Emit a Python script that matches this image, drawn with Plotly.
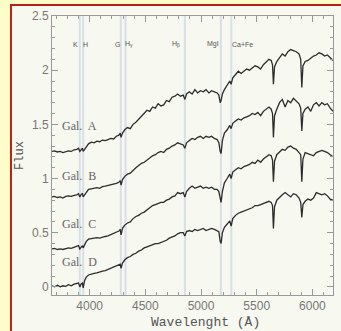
import plotly.graph_objects as go

wavelength = [3662, 3685, 3710, 3735, 3760, 3785, 3810, 3835, 3860, 3885,
              3900, 3912, 3925, 3935, 3942, 3955, 3970, 3990, 4015, 4040,
              4065, 4090, 4115, 4140, 4165, 4190, 4215, 4240, 4262, 4275,
              4282, 4295, 4315, 4340, 4365, 4390, 4415, 4440, 4465, 4490,
              4515, 4540, 4565, 4590, 4615, 4640, 4665, 4690, 4715, 4740,
              4765, 4790, 4815, 4840, 4855, 4870, 4895, 4920, 4945, 4970,
              4995, 5020, 5045, 5070, 5095, 5120, 5145, 5160, 5172, 5180,
              5192, 5210, 5235, 5258, 5270, 5285, 5310, 5335, 5360, 5385,
              5410, 5435, 5460, 5485, 5510, 5535, 5560, 5585, 5610, 5630,
              5642, 5650, 5660, 5680, 5705, 5730, 5755, 5780, 5805, 5830,
              5855, 5880, 5895, 5905, 5915, 5935, 5960, 5985, 6010, 6035,
              6060, 6085, 6110, 6135, 6160, 6185]

flux_a = [1.25, 1.255, 1.245, 1.25, 1.24, 1.25, 1.255, 1.25, 1.265, 1.27,
          1.28, 1.25, 1.275, 1.28, 1.25, 1.27, 1.30, 1.32, 1.335, 1.33,
          1.345, 1.34, 1.355, 1.35, 1.36, 1.37, 1.365, 1.39, 1.40, 1.42,
          1.38, 1.42, 1.45, 1.47, 1.46, 1.50, 1.52, 1.55, 1.57, 1.61,
          1.63, 1.62, 1.66, 1.65, 1.69, 1.67, 1.68, 1.72, 1.71, 1.75,
          1.76, 1.78, 1.76, 1.77, 1.73, 1.78, 1.80, 1.78, 1.82, 1.79,
          1.81, 1.80, 1.82, 1.79, 1.81, 1.80, 1.79, 1.77, 1.70, 1.72,
          1.78, 1.82, 1.86, 1.90, 1.87, 1.93, 1.96, 1.99, 1.97, 1.99,
          2.01, 2.00, 2.02, 2.04, 2.03, 2.01, 2.05, 2.08, 2.10, 2.09,
          2.05, 1.87, 2.03, 2.08, 2.12, 2.15, 2.13, 2.17, 2.19, 2.18,
          2.17, 2.15, 2.10, 1.84, 2.04, 2.08, 2.09, 2.11, 2.13, 2.14,
          2.16, 2.15, 2.13, 2.14, 2.11, 2.09]

flux_b = [0.83, 0.835, 0.825, 0.83, 0.82, 0.835, 0.84, 0.835, 0.845, 0.85,
          0.86, 0.83, 0.855, 0.86, 0.83, 0.85, 0.88, 0.90, 0.905, 0.91,
          0.915, 0.91, 0.925, 0.93, 0.935, 0.94, 0.945, 0.955, 0.965, 0.98,
          0.94, 0.99, 1.02, 1.04, 1.05, 1.08, 1.10, 1.12, 1.14, 1.15,
          1.17, 1.19, 1.21, 1.22, 1.24, 1.25, 1.24, 1.27, 1.28, 1.30,
          1.31, 1.33, 1.32, 1.31, 1.28, 1.33, 1.35, 1.37, 1.36, 1.38,
          1.39, 1.37, 1.39, 1.38, 1.39, 1.37, 1.36, 1.33, 1.25, 1.23,
          1.35, 1.42, 1.45, 1.49, 1.46, 1.51, 1.53, 1.55, 1.54, 1.56,
          1.57, 1.58, 1.60, 1.59, 1.61, 1.58, 1.62, 1.64, 1.66, 1.64,
          1.60, 1.38, 1.58, 1.64, 1.70, 1.73, 1.66, 1.72, 1.70, 1.74,
          1.71, 1.69, 1.65, 1.44, 1.60, 1.64, 1.66, 1.62, 1.68, 1.70,
          1.67, 1.70, 1.68, 1.69, 1.65, 1.62]

flux_c = [0.35, 0.355, 0.345, 0.35, 0.345, 0.355, 0.36, 0.355, 0.365, 0.37,
          0.38, 0.35, 0.375, 0.38, 0.36, 0.39, 0.42, 0.44, 0.445, 0.45,
          0.455, 0.45, 0.46, 0.465, 0.47, 0.48, 0.49, 0.50, 0.515, 0.53,
          0.48, 0.54, 0.57, 0.59, 0.60, 0.63, 0.65, 0.66, 0.68, 0.69,
          0.71, 0.73, 0.75, 0.76, 0.77, 0.78, 0.78, 0.80, 0.81, 0.83,
          0.84, 0.87, 0.86, 0.87, 0.83, 0.88, 0.91, 0.93, 0.91, 0.92,
          0.93, 0.91, 0.92, 0.91, 0.92, 0.90, 0.90, 0.88, 0.80, 0.78,
          0.88, 0.96, 1.00, 1.04, 1.00, 1.06, 1.08, 1.10, 1.09, 1.11,
          1.12, 1.13, 1.15, 1.14, 1.17, 1.15, 1.18, 1.20, 1.22, 1.21,
          1.17, 0.97, 1.16, 1.22, 1.25, 1.27, 1.26, 1.29, 1.30, 1.28,
          1.27, 1.24, 1.22, 0.97, 1.18, 1.24, 1.23, 1.22, 1.21, 1.24,
          1.25, 1.26, 1.25, 1.24, 1.22, 1.20]

flux_d = [0.01, 0.0, 0.015, 0.0, 0.01, 0.005, 0.02, 0.01, 0.025, 0.03,
          0.035, 0.0, 0.03, 0.035, -0.01, 0.06, 0.09, 0.11, 0.12, 0.125,
          0.13, 0.14, 0.145, 0.15, 0.16, 0.17, 0.18, 0.19, 0.20, 0.21,
          0.17, 0.22, 0.25, 0.27, 0.28, 0.30, 0.31, 0.33, 0.34, 0.36,
          0.37, 0.38, 0.39, 0.40, 0.40, 0.41, 0.42, 0.43, 0.45, 0.46,
          0.47, 0.49, 0.50, 0.50, 0.47, 0.51, 0.52, 0.51, 0.53, 0.52,
          0.53, 0.54, 0.52, 0.53, 0.54, 0.53, 0.52, 0.51, 0.42, 0.40,
          0.50, 0.55, 0.58, 0.61, 0.56, 0.63, 0.66, 0.68, 0.69, 0.70,
          0.71, 0.72, 0.73, 0.75, 0.75, 0.76, 0.77, 0.78, 0.79, 0.78,
          0.75, 0.54, 0.74, 0.80, 0.83, 0.85, 0.87, 0.85, 0.83, 0.86,
          0.85, 0.82, 0.78, 0.64, 0.76, 0.79, 0.81, 0.80, 0.82, 0.87,
          0.86, 0.85, 0.86, 0.84, 0.81, 0.80]

galaxy_names = ["Gal.  A", "Gal.  B", "Gal.  C", "Gal.  D"]
galaxy_label_y = [1.485, 1.02, 0.58, 0.23]
galaxy_label_x = 3908

line_positions = [3912, 3942, 4280, 4322, 4855, 5178, 5272]
line_labels = ["K", "H", "G", "H<sub>γ</sub>", "H<sub>β</sub>", "MgI", "Ca+Fe"]
line_label_x = [3872, 3962, 4250, 4350, 4772, 5110, 5370]
line_label_y = 2.24

fig = go.Figure()
for f in [flux_a, flux_b, flux_c, flux_d]:
    fig.add_trace(go.Scatter(x=wavelength, y=f, mode="lines",
                             line=dict(color="#2c2c2c", width=1.3),
                             showlegend=False, hoverinfo="skip"))

# border frame around the figure
fig.add_shape(type="rect", xref="paper", yref="paper",
              x0=-0.146, x1=1.043, y0=-0.161, y1=1.039,
              line=dict(color="#b5221c", width=2), fillcolor="#f7f8f0",
              layer="below")

for lp in line_positions:
    fig.add_shape(type="line", xref="x", yref="paper", x0=lp, x1=lp, y0=0, y1=1,
                  line=dict(color="rgba(160,175,215,0.35)", width=2),
                  layer="below")

for t, x in zip(line_labels, line_label_x):
    fig.add_annotation(x=x, y=line_label_y, text=t, showarrow=False,
                       font=dict(family="Liberation Sans", size=7, color="#555"))

for n, y in zip(galaxy_names, galaxy_label_y):
    fig.add_annotation(x=galaxy_label_x, y=y, text=n, showarrow=False,
                       font=dict(family="Liberation Serif", size=12, color="#666"))

fig.add_annotation(xref="paper", yref="paper", x=0.548, y=-0.097,
                   text="Wavelenght (Å)", showarrow=False, yanchor="middle",
                   font=dict(family="Liberation Mono", size=13, color="#555"))

axis_common = dict(showline=True, linecolor="#999", linewidth=1, mirror="ticks",
                   ticks="inside", tickcolor="#999", ticklen=6, tickwidth=1,
                   showgrid=False, zeroline=False,
                   tickfont=dict(family="Liberation Sans", size=12, color="#777"))

fig.update_xaxes(range=[3662, 6185], tickvals=[4000, 4500, 5000, 5500, 6000],
                 minor=dict(dtick=100, ticks="inside", ticklen=3, tickcolor="#999"),
                 **axis_common)
fig.update_yaxes(range=[-0.075, 2.5], tickvals=[0, 0.5, 1, 1.5, 2, 2.5],
                 ticktext=["0", "0.5", "1", "1.5", "2", "2.5"],
                 minor=dict(dtick=0.1, ticks="inside", ticklen=3, tickcolor="#999"),
                 title=dict(text="Flux", standoff=5,
                            font=dict(family="Liberation Mono", size=12, color="#555")),
                 **axis_common)

fig.update_layout(width=341, height=331,
                  margin=dict(l=52, r=8, t=16, b=36),
                  paper_bgcolor="#fefcc8", plot_bgcolor="#f7f8f0")

fig.write_html("out.html", config={"displayModeBar": False},
               post_script="document.body.style.margin='0';document.body.style.overflow='hidden';")
